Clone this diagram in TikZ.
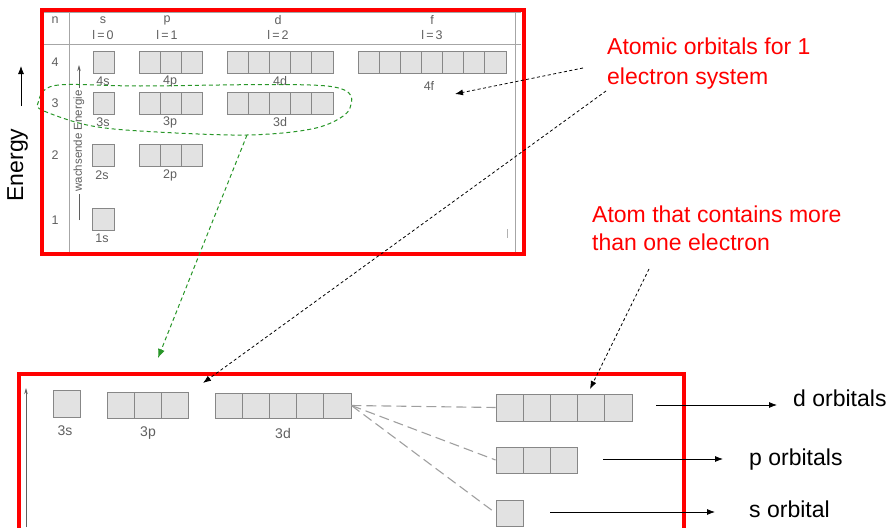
\documentclass[tikz,border=0pt]{standalone}
\usepackage{fontspec}
\setmainfont{Liberation Sans}
\usetikzlibrary{arrows.meta}
\definecolor{frame}{RGB}{255,0,0}
\definecolor{dgreen}{RGB}{40,150,40}
\definecolor{tgray}{RGB}{95,95,95}
\definecolor{cellfill}{RGB}{226,226,226}
\definecolor{celledge}{RGB}{135,135,135}
\newcommand{\orbrow}[6]{%
  \foreach \i in {1,...,#4}{%
    \node[cell, minimum width=#5pt, minimum height=#6pt] (#1-\i) at ({#2+(\i-0.5)*#5}, #3) {};}}
\begin{document}
\begin{tikzpicture}[x=1pt,y=-1pt,
  cell/.style={draw=celledge, fill=cellfill, line width=0.9pt, inner sep=0pt},
  tab/.style={text=tgray, font=\fontsize{12.5}{13}\selectfont, inner sep=1pt},
  lab/.style={text=tgray, font=\fontsize{14}{15}\selectfont, inner sep=1pt},
  redtxt/.style={text=frame, font=\fontsize{23}{28}\selectfont, anchor=base west, inner sep=0pt},
  blktxt/.style={text=black, font=\fontsize{23}{28}\selectfont, anchor=base west, inner sep=0pt},
  tline/.style={draw=gray!70, line width=0.9pt},
  redframe/.style={draw=frame, line width=4pt},
  blkdash/.style={draw=black, line width=0.8pt, dash pattern=on 3pt off 2.5pt, -{Latex[length=8pt,width=6pt]}},
  greendash/.style={draw=dgreen, line width=1pt, dash pattern=on 4pt off 3pt},
  gdash/.style={draw=gray!75, line width=1.1pt, dash pattern=on 10pt off 5pt},
  solidarrow/.style={draw=black, line width=0.8pt, -{Latex[length=8pt,width=6pt]}}
]
\useasboundingbox (0,0) rectangle (896,527);

% ---------- top table ----------
\draw[tline] (44,12.3) -- (521,12.3);
\draw[tline] (44,44.3) -- (521,44.3);
\draw[tline] (69.3,12) -- (69.3,252);
\draw[tline] (515,12) -- (515,252);
\draw[draw=gray!60, line width=0.6pt] (507,229) -- (507,238);

\node[tab] (hn) at (55,20) {n};
\node[tab] (hs) at (103,20) {s};
\node[tab] (hs0) at (103,35) {l\,=\,0};
\node[tab] (hp) at (167,20) {p};
\node[tab] (hp1) at (167,35) {l\,=\,1};
\node[tab] (hd) at (278,20) {d};
\node[tab] (hd2) at (278,35) {l\,=\,2};
\node[tab] (hf) at (432,20) {f};
\node[tab] (hf3) at (432,35) {l\,=\,3};

\node[tab] (n4) at (55,62) {4};
\node[tab] (n3) at (55,103) {3};
\node[tab] (n2) at (55,155) {2};
\node[tab] (n1) at (55,220) {1};

\orbrow{s4}{93}{62}{1}{21.2}{22}
\orbrow{p4}{139}{62}{3}{21.3}{22}
\orbrow{d4}{227}{62}{5}{21.2}{22}
\orbrow{f4}{358}{62}{7}{21.15}{22}
\orbrow{s3}{93}{103}{1}{21.2}{22}
\orbrow{p3}{139}{103}{3}{21.3}{22}
\orbrow{d3}{227}{103}{5}{21.2}{22}
\orbrow{s2}{92.5}{155.5}{1}{21.5}{21.5}
\orbrow{p2}{139}{155.5}{3}{21.3}{21.5}
\orbrow{s1}{92.5}{219}{1}{21.5}{22}

\node[tab] (l4s) at (103,81.5) {4s};
\node[tab] (l4p) at (170,81.5) {4p};
\node[tab] (l4d) at (280,81.5) {4d};
\node[tab] (l4f) at (429,86) {4f};
\node[tab] (l3s) at (103,122.5) {3s};
\node[tab] (l3p) at (170,122.5) {3p};
\node[tab] (l3d) at (280,122.5) {3d};
\node[tab] (l2s) at (102,175) {2s};
\node[tab] (l2p) at (170,175) {2p};
\node[tab] (l1s) at (102,238) {1s};

% internal energy arrow
\coordinate (eb) at (79,220);
\coordinate (et) at (79,65);
\draw[draw=tgray, line width=0.8pt, -{Stealth[length=6pt,width=3.5pt]}] (eb) -- (et);
\node[tab, font=\fontsize{11.5}{12}\selectfont, fill=white, rotate=90, inner sep=2pt] (wen) at (79,141) {wachsende Energie};

% green dashed loop
\draw[greendash] plot[smooth cycle, tension=0.55] coordinates
  {(38,103) (55,85.5) (140,86) (327,86) (350,108) (318,127.5) (247,135) (140,131) (87,125) (44,111)};
\coordinate (gs) at (247,135);
\coordinate (ge) at (158,358);

% ---------- bottom diagram ----------
\coordinate (bb) at (26,527);
\coordinate (bt) at (26,388);
\draw[draw=tgray, line width=0.8pt, -{Stealth[length=6pt,width=3.5pt]}] (bb) -- (bt);

\orbrow{bs}{53}{403.5}{1}{27}{27}
\orbrow{bp}{107}{405}{3}{27}{26}
\orbrow{bd}{215}{405.5}{5}{27.2}{25}
\orbrow{dd}{496}{407.5}{5}{27.2}{27}
\orbrow{pp}{496}{460}{3}{27}{26}
\orbrow{ss}{496}{513}{1}{27}{26}

\node[lab] (b3s) at (65,431) {3s};
\node[lab] (b3p) at (148,433) {3p};
\node[lab] (b3d) at (283,433) {3d};

\draw[gdash] (bd-5.east) -- (dd-1.west);
\draw[gdash] (bd-5.east) -- (pp-1.west);
\draw[gdash] (bd-5.east) -- (ss-1.west);

% ---------- red frames ----------
\draw[redframe] (42,10) rectangle (523.5,254);
\draw[redframe] (19,373.5) rectangle (684,560);

% ---------- texts ----------
\node[redtxt] (t1a) at (607,55) {Atomic orbitals for 1};
\node[redtxt] (t1b) at (607,84) {electron system};
\node[redtxt] (t2a) at (592,222) {Atom that contains more};
\node[redtxt] (t2b) at (592,250) {than one electron};
\node[text=black, font=\fontsize{23}{28}\selectfont, rotate=90, inner sep=0pt] (energy) at (17.5,165) {Energy};
\coordinate (ea) at (21,106);
\coordinate (eat) at (21,66);
\draw[solidarrow] (ea) -- (eat);

\node[blktxt] (dlab) at (793,406) {d orbitals};
\node[blktxt] (plab) at (749,465) {p orbitals};
\node[blktxt] (slab) at (749,517) {s orbital};

\coordinate (ad1) at (656,405);
\coordinate (ad2) at (777,405);
\coordinate (ap1) at (603,459);
\coordinate (ap2) at (723,459);
\coordinate (as1) at (550,512);
\coordinate (as2) at (715,512);
\draw[solidarrow] (ad1) -- (ad2);
\draw[solidarrow] (ap1) -- (ap2);
\draw[solidarrow] (as1) -- (as2);

% ---------- dashed pointer arrows ----------
\draw[greendash, -{Latex[length=9pt,width=7pt]}] (gs) -- (ge);
\coordinate (k1s) at (583,68);
\coordinate (k1e) at (455,94);
\coordinate (k2s) at (606,91);
\coordinate (k2e) at (203,383);
\coordinate (k3s) at (649,269);
\coordinate (k3e) at (590,389);
\draw[blkdash] (k1s) -- (k1e);
\draw[blkdash] (k2s) -- (k2e);
\draw[blkdash] (k3s) -- (k3e);
\end{tikzpicture}
\end{document}
